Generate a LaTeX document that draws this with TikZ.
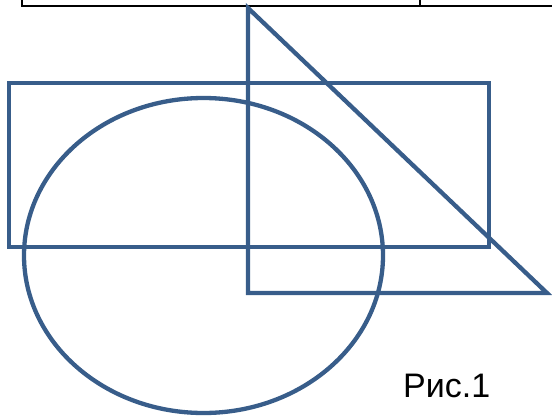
\documentclass[tikz,border=0pt]{standalone}
\usepackage{fontspec}
\setmainfont{Liberation Sans}
\usetikzlibrary{positioning}
\definecolor{shapeblue}{RGB}{56,93,138}

\begin{document}
\begin{tikzpicture}[
	x=1pt, y=-1pt,
	figure/.style={draw=shapeblue, line width=4.3pt},
	tableline/.style={draw=black, line width=1.6pt},
	caption/.style={font=\fontsize{34}{40}\selectfont, inner sep=0pt, anchor=base west}
	]
	
	\useasboundingbox (0,0) rectangle (552,418);
	
	% cut-off table on top
	\draw[tableline] (22,0) -- (22,6) -- (552,6);
	\draw[tableline] (420,0) -- (420,6);
	
	% figures
	\draw[figure] (9,83) rectangle (489,247);
	\draw[figure, line join=miter] (248,8) -- (248,293) -- (547,293) -- cycle;
	\draw[figure] (203.5,255.5) ellipse [x radius=179.5, y radius=157.5];
	
	\node[caption] (cap) at (403,397) {Рис.1};
	
\end{tikzpicture}
\end{document}
